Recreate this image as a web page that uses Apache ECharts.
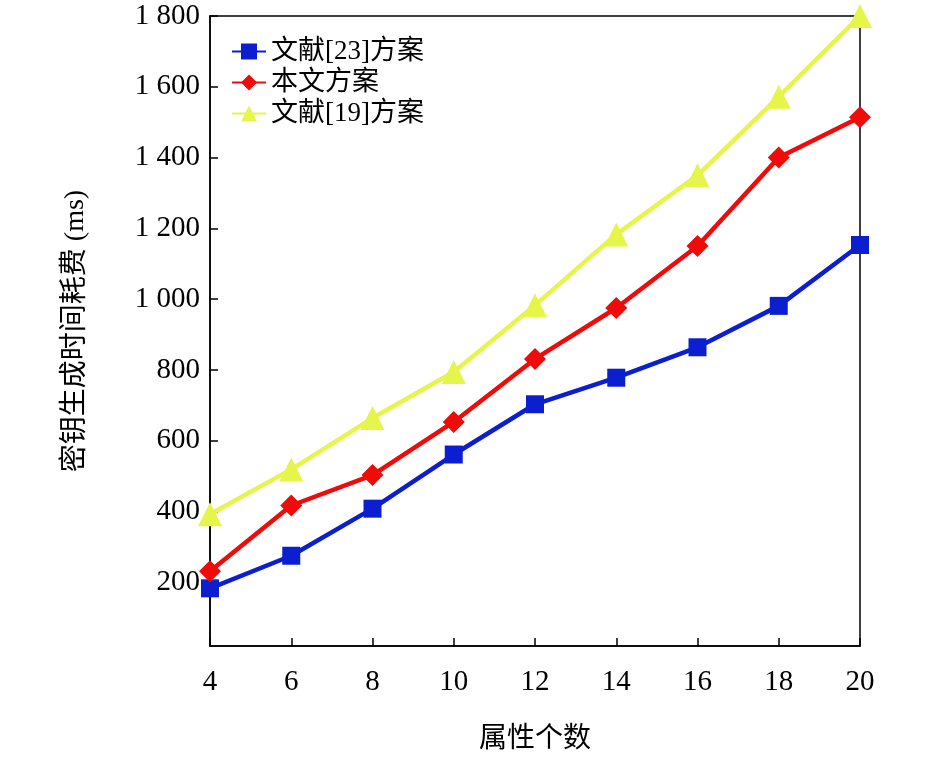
<!DOCTYPE html><html><head><meta charset="utf-8"><script src="https://cdn.jsdelivr.net/npm/echarts@6/dist/echarts.min.js"></script></head><body style="margin:0"><div id="c" style="width:945px;height:759px"></div><script>
const xs=[4,6,8,10,12,14,16,18,20];
const s23=[183,275,408,561,703,778,864,981,1153];
const ours=[231,417,503,653,831,975,1150,1400,1514];
const s19=[392,519,664,794,983,1183,1350,1572,1800];
const yTicks=[200,400,600,800,1000,1200,1400,1600,1800];
const f='"Liberation Serif","Times New Roman","Noto Sans CJK SC",serif';
const mk=(n,d,c,sym,sz)=>({name:n,type:'line',data:xs.map((x,i)=>[x,d[i]]),symbol:sym,symbolSize:sz,itemStyle:{color:c},lineStyle:{color:c,width:4.5}});
const ch=echarts.init(document.getElementById('c'));
ch.setOption({textStyle:{fontFamily:f},
grid:{left:210,right:85,top:16,bottom:101,show:true,borderColor:'#000',borderWidth:1.5,backgroundColor:'transparent'},
legend:{left:226,top:33,orient:'vertical',itemGap:4,itemWidth:34,itemHeight:20,icon:undefined,textStyle:{fontSize:27,fontFamily:f,color:'#000'}},
xAxis:{type:'value',min:4,max:20,interval:2,name:'属性个数',nameLocation:'middle',nameGap:80,nameTextStyle:{fontSize:28,color:'#000'},axisLine:{lineStyle:{color:'#000',width:1.5}},axisTick:{inside:true,length:8,lineStyle:{color:'#000',width:1.5}},axisLabel:{fontSize:29,color:'#000',margin:22},splitLine:{show:false}},
yAxis:{type:'value',min:20,max:1800,name:'密钥生成时间耗费 (ms)',nameLocation:'middle',nameGap:120,nameTextStyle:{fontSize:28,color:'#000'},axisLine:{lineStyle:{color:'#000',width:1.5}},axisTick:{inside:true,length:8,customValues:yTicks,lineStyle:{color:'#000',width:1.5}},axisLabel:{fontSize:29,color:'#000',margin:10,customValues:yTicks,formatter:v=>v>=1000?String(Math.floor(v/1000))+' '+String(v%1000).padStart(3,'0'):v},splitLine:{show:false}},
series:[mk('文献[23]方案',s23,'#0c1fd0','rect',18),mk('本文方案',ours,'#f00a0a','diamond',22),mk('文献[19]方案',s19,'#e6f54a','triangle',24)]});
</script></body></html>
